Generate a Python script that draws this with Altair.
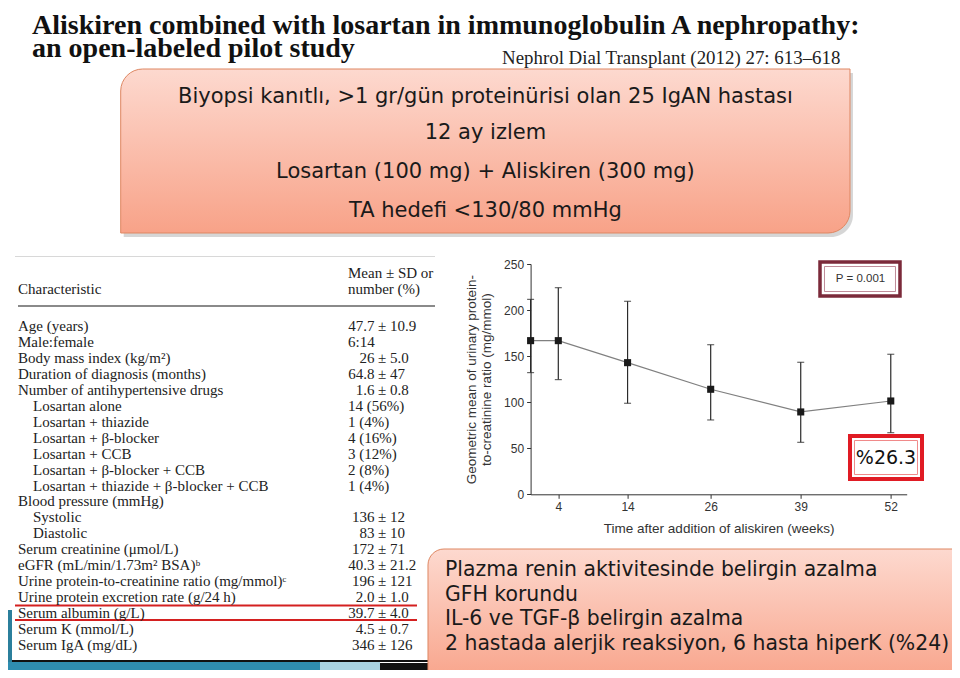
import altair as alt
import pandas as pd

# ---------------- data ----------------
weeks = [0, 4, 14, 26, 39, 52]
upcr_mean = [166.8, 166.8, 142.9, 114.0, 89.4, 101.3]
upcr_low = [132.1, 124.5, 98.8, 80.7, 56.4, 66.9]
upcr_high = [211.6, 224.3, 209.5, 162.4, 143.3, 152.0]
x_ticks = [4, 14, 26, 39, 52]
y_ticks = [0, 50, 100, 150, 200, 250]

title_lines = ["Aliskiren combined with losartan in immunoglobulin A nephropathy:",
               "an open-labeled pilot study"]
citation = "Nephrol Dial Transplant (2012) 27: 613–618"

box_top_lines = ["Biyopsi kanıtlı, >1 gr/gün proteinürisi olan 25 IgAN hastası",
                 "12 ay izlem",
                 "Losartan (100 mg) + Aliskiren (300 mg)",
                 "TA hedefi <130/80 mmHg"]
box_bottom_lines = ["Plazma renin aktivitesinde belirgin azalma",
                    "GFH korundu",
                    "IL-6 ve TGF-β belirgin azalma",
                    "2 hastada alerjik reaksiyon, 6 hasta hiperK (%24)"]

table_labels = ["Age (years)", "Male:female", "Body mass index (kg/m²)",
                "Duration of diagnosis (months)", "Number of antihypertensive drugs",
                "Losartan alone", "Losartan + thiazide", "Losartan + β-blocker",
                "Losartan + CCB", "Losartan + β-blocker + CCB",
                "Losartan + thiazide + β-blocker + CCB", "Blood pressure (mmHg)",
                "Systolic", "Diastolic", "Serum creatinine (μmol/L)",
                "eGFR (mL/min/1.73m² BSA)ᵇ",
                "Urine protein-to-creatinine ratio (mg/mmol)ᶜ",
                "Urine protein excretion rate (g/24 h)", "Serum albumin (g/L)",
                "Serum K (mmol/L)", "Serum IgA (mg/dL)"]
table_indent = [0, 0, 0, 0, 0, 1, 1, 1, 1, 1, 1, 0, 1, 1, 0, 0, 0, 0, 0, 0, 0]
table_values = ["47.7 ± 10.9", "6:14", "26 ± 5.0", "64.8 ± 47", "1.6 ± 0.8",
                "14 (56%)", "1 (4%)", "4 (16%)", "3 (12%)", "2 (8%)", "1 (4%)", "",
                "136 ± 12", "83 ± 10", "172 ± 71", "40.3 ± 21.2", "196 ± 121",
                "2.0 ± 1.0", "39.7 ± 4.0", "4.5 ± 0.7", "346 ± 126"]
p_text = "P = 0.001"
pct_text = "%26.3"

# ---------------- layout (page pixels) ----------------
OX, OY = 530.6, 264.0          # plot origin on the page
PW, PH = 376.1, 230.3          # plot area
PAD = {"left": OX - 8, "top": OY - 8, "right": 952 - (OX + PW), "bottom": 670 - (OY + PH)}


def px(x):
    return x - OX


def py(y):
    return y - OY


ONE = alt.Data(values=[{"k": 0}])


def rect(x1, y1, x2, y2, **kw):
    return alt.Chart(ONE).mark_rect(**kw).encode(
        x=alt.value(px(x1)), x2=alt.value(px(x2)),
        y=alt.value(py(y1)), y2=alt.value(py(y2)))


def hline(x1, x2, y, color, width):
    return alt.Chart(ONE).mark_rule(color=color, strokeWidth=width).encode(
        x=alt.value(px(x1)), x2=alt.value(px(x2)), y=alt.value(py(y)))


def text(x, y, s, **kw):
    return alt.Chart(ONE).mark_text(**kw).encode(
        x=alt.value(px(x)), y=alt.value(py(y)), text=alt.value(s))


pink = alt.LinearGradient(
    gradient="linear", x1=0, x2=0, y1=0, y2=1,
    stops=[alt.GradientStop(color="#fdd9cf", offset=0),
           alt.GradientStop(color="#f8a288", offset=1)])

layers = []

# slide decorations (bottom-left swoosh)
layers.append(rect(0, 610, 12, 670, color="#2b7f9c"))
layers.append(rect(0, 662, 320, 680, color="#2f8db0"))
layers.append(rect(320, 662, 380, 680, color="#a9d3e2"))
layers.append(rect(380, 663, 440, 680, color="#111111"))

# titles
layers.append(text(32, 34, title_lines[0], font="Liberation Serif", fontWeight="bold",
                   fontSize=28, align="left", baseline="alphabetic", color="#111111"))
layers.append(text(32, 57, title_lines[1], font="Liberation Serif", fontWeight="bold",
                   fontSize=28, align="left", baseline="alphabetic", color="#111111"))
layers.append(text(502, 64, citation, font="Liberation Serif", fontSize=18.9,
                   align="left", baseline="alphabetic", color="#222222"))

# top pink box
layers.append(rect(123.7, 73, 853, 237, color="#000000", opacity=0.16,
                   cornerRadiusTopLeft=22, cornerRadiusBottomRight=22))
layers.append(rect(120.7, 69, 850, 233, fill=pink, stroke="#de8762", strokeWidth=1,
                   cornerRadiusTopLeft=22, cornerRadiusBottomRight=22))
for yy, s in zip([97, 133, 172, 211], box_top_lines):
    layers.append(text(485.4, yy, s, font="DejaVu Sans", fontSize=21, align="center",
                       baseline="middle", color="#1a1a1a"))

# table
layers.append(hline(15, 435, 256.5, "#d8d8d8", 1))
layers.append(text(348, 273, "Mean ± SD or", font="Liberation Serif", fontSize=15,
                   align="left", baseline="middle", color="#222222"))
layers.append(text(348, 289, "number (%)", font="Liberation Serif", fontSize=15,
                   align="left", baseline="middle", color="#222222"))
layers.append(text(18, 289, "Characteristic", font="Liberation Serif", fontSize=15,
                   align="left", baseline="middle", color="#222222"))
layers.append(hline(18, 435, 306, "#8a8a8a", 2))
layers.append(hline(15, 417, 605.5, "#d42020", 2))
layers.append(hline(15, 417, 620, "#d42020", 2))
layers.append(hline(12, 430, 661, "#111111", 2))

tdf = pd.DataFrame({"row": list(range(len(table_labels))), "label": table_labels,
                    "indent": table_indent, "value": table_values})
tdf["vl"] = [v.split(" ± ")[0] if "±" in v else "" for v in table_values]
tdf["vr"] = ["± " + v.split(" ± ")[1] if "±" in v else "" for v in table_values]
tdf["vf"] = ["" if "±" in v else v for v in table_values]

row_scale = alt.Scale(domain=[0, len(table_labels) - 1], range=[py(326), py(645)])
tfont = dict(font="Liberation Serif", fontSize=15, baseline="middle", color="#222222")
t_base = alt.Chart(tdf)
table_layer = alt.layer(
    t_base.mark_text(align="left", **tfont).encode(
        x=alt.X("indent:Q", scale=alt.Scale(domain=[0, 1], range=[px(18), px(33)]), axis=None),
        y=alt.Y("row:Q", scale=row_scale, axis=None), text="label:N"),
    t_base.mark_text(align="right", **tfont).encode(
        x=alt.value(px(374.5)), y=alt.Y("row:Q", scale=row_scale, axis=None), text="vl:N"),
    t_base.mark_text(align="left", **tfont).encode(
        x=alt.value(px(378)), y=alt.Y("row:Q", scale=row_scale, axis=None), text="vr:N"),
    t_base.mark_text(align="left", **tfont).encode(
        x=alt.value(px(348)), y=alt.Y("row:Q", scale=row_scale, axis=None), text="vf:N"),
)

# ---------------- line chart ----------------
df = pd.DataFrame({"week": weeks, "mean": upcr_mean, "low": upcr_low, "high": upcr_high})
xsc = alt.Scale(domain=[0, 54.3], nice=False, zero=False)
ysc = alt.Scale(domain=[0, 250], nice=False)
axis_style = dict(grid=False, domainColor="#333333", tickColor="#333333", tickSize=4,
                  labelPadding=3, labelFont="Liberation Sans", labelFontSize=12,
                  labelColor="#333333", titleFont="Liberation Sans", titleFontSize=13.5,
                  titleFontWeight="normal", titleColor="#333333")
xaxis = alt.Axis(values=x_ticks, title="Time after addition of aliskiren (weeks)",
                 titlePadding=9, **axis_style)
yaxis = alt.Axis(values=y_ticks, title=["Geometric mean of urinary protein-",
                                        "to-creatinine ratio (mg/mmol)"],
                 titlePadding=10, titleLineHeight=15, **axis_style)


def X():
    return alt.X("week:Q", scale=xsc, axis=xaxis)


def Y(f):
    return alt.Y(f"{f}:Q", scale=ysc, axis=yaxis)


base = alt.Chart(df)
plot = alt.layer(
    base.mark_line(color="#808080", strokeWidth=1.2).encode(x=X(), y=Y("mean")),
    base.mark_rule(color="#2a2a2a", strokeWidth=1.2).encode(x=X(), y=Y("low"), y2="high:Q"),
    base.mark_tick(orient="horizontal", size=7, thickness=1.2, color="#2a2a2a").encode(
        x=X(), y=Y("high")),
    base.mark_tick(orient="horizontal", size=7, thickness=1.2, color="#2a2a2a").encode(
        x=X(), y=Y("low")),
    base.mark_square(size=50, color="#1a1a1a", opacity=1).encode(x=X(), y=Y("mean")),
)

# P box
p_layers = [
    rect(820, 262, 900, 296, fill="#ffffff", stroke="#7b2a3a", strokeWidth=3.5),
    rect(824.5, 266.5, 895.5, 291.5, fill="#ffffff", stroke="#b07080", strokeWidth=0.8),
    text(860.5, 279, p_text, font="Liberation Sans", fontSize=11.5, align="center",
         baseline="middle", color="#333333"),
]
# percentage box
pct_layers = [
    rect(850, 436, 922, 479, fill="#ffffff", stroke="#e01b24", strokeWidth=4),
    rect(854.5, 440.5, 917.5, 474.5, fill="#ffffff", stroke="#f08a8a", strokeWidth=1),
    text(886, 458, pct_text, font="DejaVu Sans", fontSize=19, align="center",
         baseline="middle", color="#111111"),
]

# bottom pink box
bottom_layers = [
    rect(431, 553, 965, 690, color="#000000", opacity=0.16, cornerRadiusTopLeft=16),
    rect(428, 549, 962, 686, fill=pink, stroke="#de8762", strokeWidth=1, cornerRadiusTopLeft=16),
]
for yy, s in zip([570, 594.5, 619, 643.5], box_bottom_lines):
    bottom_layers.append(text(445, yy, s, font="DejaVu Sans", fontSize=20.4, align="left",
                              baseline="middle", color="#1a1a1a"))

chart = alt.layer(
    *layers, table_layer, plot, *p_layers, *pct_layers, *bottom_layers
).resolve_scale(
    x="independent", y="independent"
).properties(
    width=PW, height=PH, padding=PAD,
    autosize=alt.AutoSizeParams(type="none"),
    background="#ffffff",
).configure_view(stroke=None)

chart.save("out.html", embed_options={"renderer": "svg", "actions": False})
